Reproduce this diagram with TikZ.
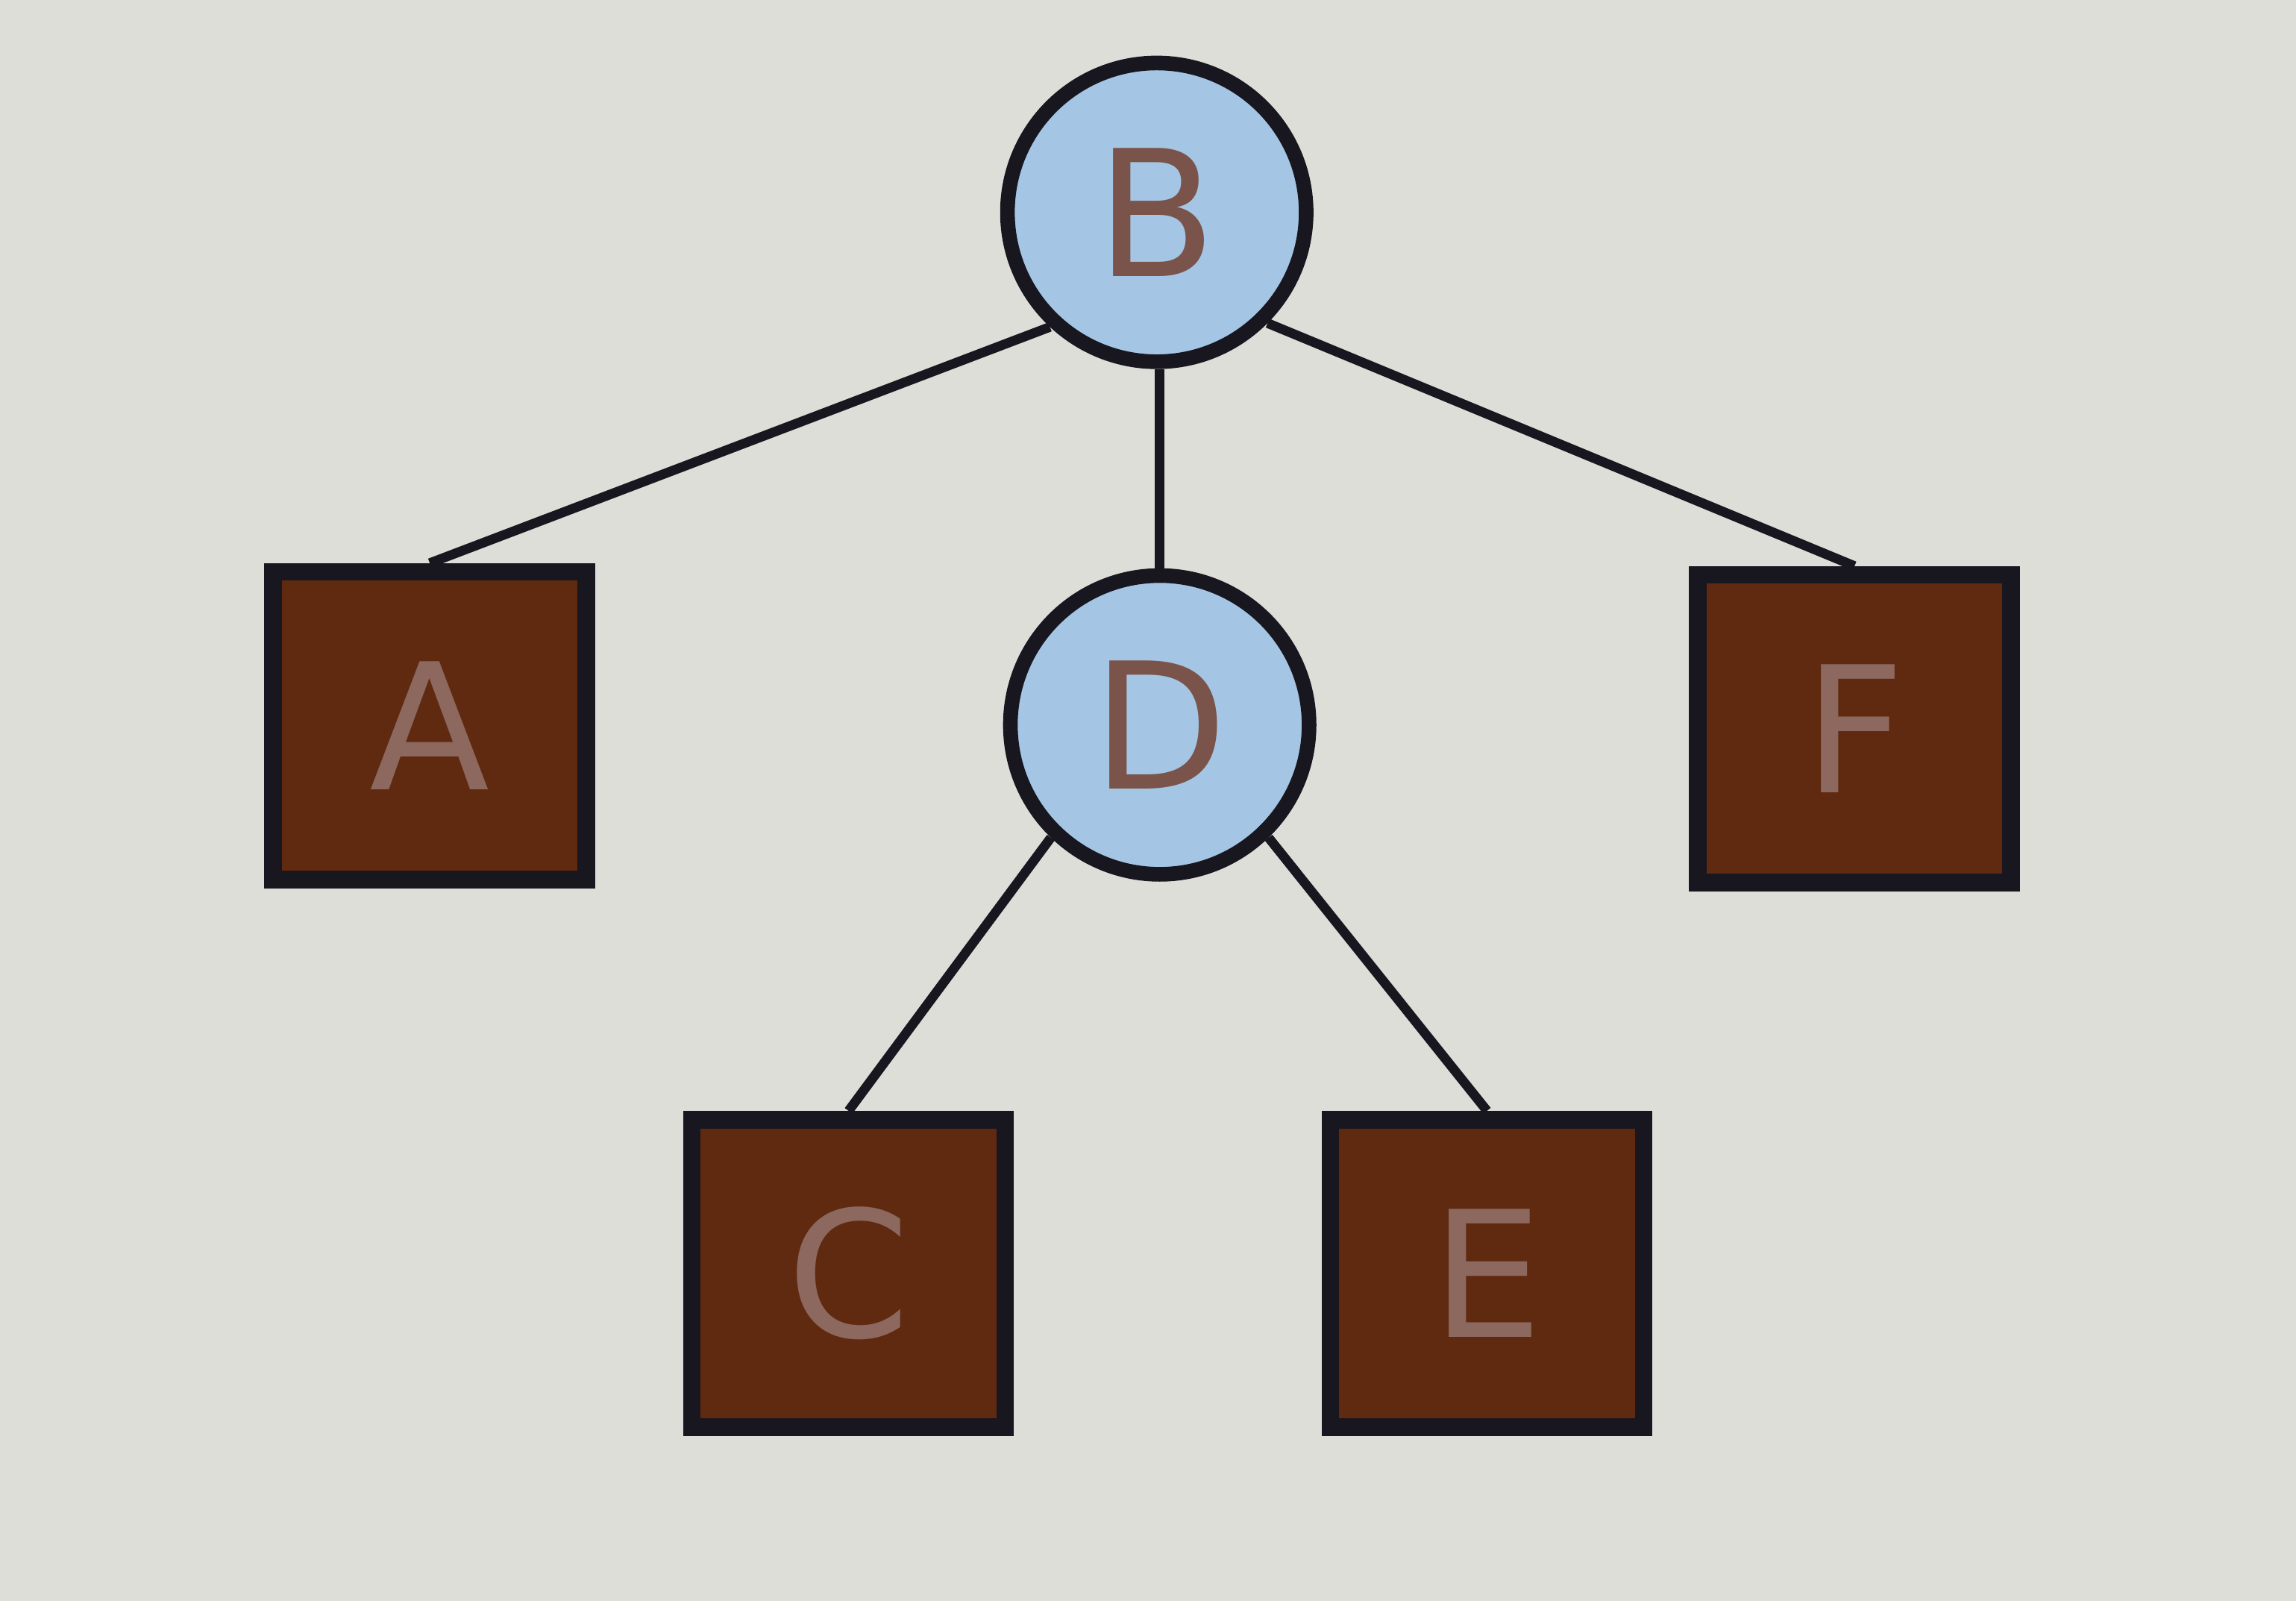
\documentclass[tikz,border=0pt]{standalone}
\usepackage{fontspec}
\setmainfont{DejaVu Sans}
\definecolor{bgpaper}{RGB}{222,222,217}
\definecolor{inkline}{RGB}{24,22,30}
\definecolor{circfill}{RGB}{164,198,228}
\definecolor{circtext}{RGB}{122,84,74}
\definecolor{boxfill}{RGB}{96,42,16}
\definecolor{boxtext}{RGB}{140,104,94}
\tikzset{
  inner/.style={circle, draw=inkline, line width=10pt, fill=circfill,
    minimum size=204pt, inner sep=0pt, text=circtext,
    font=\fontsize{120}{124}\selectfont},
  leaf/.style={rectangle, draw=inkline, line width=12pt, fill=boxfill,
    minimum width=214pt, minimum height=210pt, inner sep=0pt, text=boxtext,
    font=\fontsize{120}{124}\selectfont},
  link/.style={draw=inkline, line width=6.5pt}
}
\begin{document}
\begin{tikzpicture}[x=1pt,y=-1pt]
  \fill[bgpaper] (0,0) rectangle (1568,1093);
  \useasboundingbox (0,0) rectangle (1568,1093);

  % connectors first, so the nodes cover their ends
  \coordinate (b0) at (790,145);
  \coordinate (d0) at (792,495);

  % tree nodes
  \node[inner] (B) at (b0) {B};
  \node[inner] (D) at (d0) {D};
  \node[leaf] (A) at (293.5,495.5) {A};
  \node[leaf] (F) at (1266.5,497.5) {F};
  \node[leaf] (C) at (579.5,869.5) {C};
  \node[leaf] (E) at (1015.5,869.5) {E};

  \draw[link] (B.227) -- (A.north);
  \draw[link] (B.315) -- (F.north);
  \draw[link] (B.south -| D.north) -- (D.north);
  \draw[link] (D.226) -- (C.north);
  \draw[link] (D.314) -- (E.north);
\end{tikzpicture}
\end{document}
